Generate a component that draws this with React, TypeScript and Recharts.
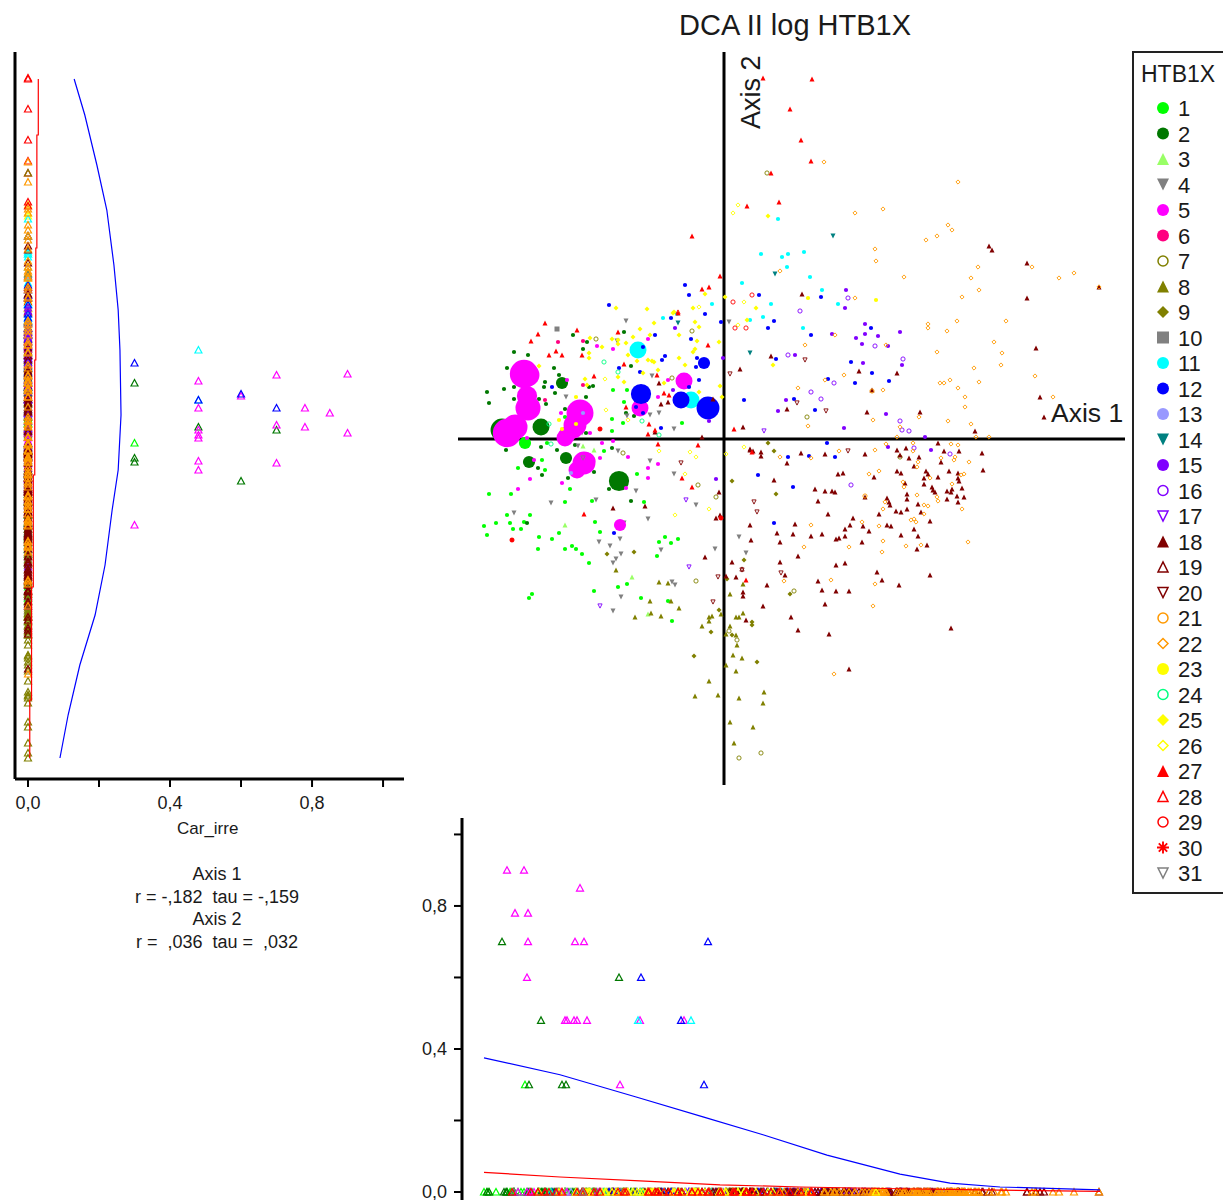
import React from 'react';
import { ScatterChart, Scatter, XAxis, YAxis, ReferenceLine } from 'recharts';

// each point: [axis 1 score, axis 2 score, Car_irre (omitted = 0)]
type Row = [number, number, number?];

const g1: Row[] = [[-199,-5,.3],[-111,48],[-100,36],[-97,48],[-112,19],[-101,15],[-42,15],[-112,7],[-159,21],[-177,-5],[-120,-13],[-206,-30],[-182,-22],[-179,-32],[-134,-18],[-87,-36],[-213,-56],[-235,-56],[-154,-51],[-159,-64],[-132,-63],[-80,-64],[-217,-77],[-194,-77],[-228,-85],[-214,-85],[-240,-88],[-211,-91],[-203,-91],[-200,-84],[-237,-97],[-185,-99],[-172,-101],[-165,-95],[-129,-84],[-124,-94],[-186,-111],[-159,-111],[-152,-108],[-148,-111],[-142,-116],[-135,-125],[-59,-99],[-65,-104],[-53,-105],[-46,-101],[-67,-118],[-130,-153],[-106,-149],[-97,-146],[-83,-160],[-56,-163],[-52,-183],[-192,-156],[-195,-160]];
const g2: Row[] = [[-222,8,.7],[-105,-43,.6],[-183,11,.48],[-162,55,.3],[-158,-20,.3],[-195,-24,.3],[-210,86],[-196,83],[-217,70],[-170,70],[-165,63],[-179,56],[-180,51],[-220,49],[-210,51],[-237,46],[-235,35],[-210,39],[-169,45],[-185,39],[-178,34],[-138,41],[-151,103],[-137,96],[-141,89],[-100,106],[-93,72],[-135,51],[-131,52],[-159,29],[-98,25],[-90,22],[-138,5],[-218,-12],[-183,-9],[-167,-12],[-149,-7],[-112,-10],[-186,-30],[-182,-37],[-130,-34],[-156,-40],[-115,-51],[-93,-63],[-197,-85]];
const g3: Row[] = [[-159,-87],[-130,-12],[-141,-8],[-92,-139],[-76,-176]];
const g4: Row[] = [[-98,117],[-107,97],[5,116],[-72,62],[-158,41],[-65,25],[-74,23],[-97,22],[-50,9],[-106,-13],[-74,-23],[-50,-36],[-88,-53],[-128,-62],[-173,-65],[-28,-67],[-76,-81],[-210,-75],[-100,-85],[-104,-101],[-125,-104],[-114,-108],[-63,-112],[-9,-111],[15,-99],[22,-115],[-103,-116],[-108,-121],[-111,-125],[-146,-8],[-142,5],[-146,-25],[-131,-24],[-103,-159],[-111,-173],[-52,-144],[-49,-147]];
const g5: Row[] = [[-200,64,.9],[-217,5,.9],[-144,25,.85],[-196,30,.78],[-209,11,.78],[-196,63,.7],[-149,13,.7],[-140,-25,.7],[-197,42,.6],[-157,3,.48],[-147,-32,.48],[-159,0,.48],[-150,8,.48],[-137,-23,.48],[-84,30,.48],[-40,57,.48],[-104,-87,.3],[-127,92],[-111,89],[-76,99],[-163,25],[-157,58],[-66,41],[-122,-5],[-111,-3],[-134,5],[-124,-20],[-96,-19],[-76,-30],[-66,-26],[-76,-40],[-194,-41],[-206,-51],[-162,-45],[-197,0],[-56,58],[-190,-22],[-98,-50]];
const g6: Row[] = [[-166,96],[-141,97],[-141,53],[-179,38]];
const g7: Row[] = [[-28,-143],[5,-193],[13,-202],[37,-315],[15,-320],[70,-153],[-128,99],[-32,107],[-52,60],[-101,-15],[-26,-47],[-8,-59],[43,265],[176,-19],[83,21]];
const g8: Row[] = [[-108,-132],[-65,-144],[-56,-145],[-74,-163],[-53,-163],[-73,-175],[-89,-179],[-63,-178],[-45,-170],[-22,-188],[-15,-179],[-12,-178],[-15,-183],[-3,-176],[6,-156],[19,-175],[12,-179],[15,-179],[6,-188],[2,-196],[12,-197],[13,-207],[9,-217],[18,-220],[2,-227],[12,-233],[-15,-243],[-29,-258],[-6,-257],[15,-260],[40,-254],[39,-265],[6,-284],[29,-289],[10,-305],[19,-146]];
const g9: Row[] = [[-30,-218],[-13,-194],[-5,-172],[28,-184],[28,-187],[33,-224],[8,-197],[3,-141],[44,-5],[50,-13],[8,-43],[52,-56],[66,-156],[-117,-116],[-90,-114],[20,-122]];
const g10: Row[] = [[-167,109]];
const g11: Row[] = [[-86,88,.48],[-33,38,.48],[18,155],[-12,134],[-61,120],[-47,124],[26,118],[54,219],[37,184],[58,181],[64,184],[80,186],[63,171],[86,161],[98,148],[47,134],[114,134],[39,121],[79,110]];
const g12: Row[] = [[-16,30,.7],[-83,44,.6],[-43,38,.48],[-20,75,.3],[-115,133],[-39,153],[-35,143],[-3,116],[-19,124],[-53,120],[-69,103],[-33,99],[-105,70],[-84,66],[-62,78],[-59,82],[-27,80],[-25,58],[-35,51],[-172,51],[20,38],[-81,91],[-63,10],[-110,-95],[34,-37],[-28,71],[-81,25],[-88,31],[35,143],[50,117],[44,110],[87,103],[97,141],[52,79],[127,76],[147,110],[148,65],[131,55],[165,57],[104,59],[70,39],[91,28],[103,-5],[64,-19],[85,-18],[111,-19],[69,-49],[50,-85]];
const g13: Row[] = [[-141,25],[-153,-35]];
const g14: Row[] = [[-46,115],[26,85],[109,202],[51,164]];
const g15: Row[] = [[-49,110],[-1,80],[-51,48],[-15,17],[-8,-41],[122,148],[121,130],[141,114],[141,104],[132,100],[154,102],[138,94],[176,106],[108,104],[164,92],[71,83],[139,75],[178,73],[54,27],[62,38],[162,24],[120,10],[201,1],[164,-9],[207,-12]];
const g16: Row[] = [[124,140],[76,127],[151,92],[64,83],[179,79],[87,46],[110,55],[97,39],[176,17],[178,8],[185,7],[190,-10],[226,-16],[127,-47]];
const g17: Row[] = [[-38,-62],[-35,-129],[40,7],[-124,-168]];
const g18: Row[] = [[265,192],[268,188],[303,175],[303,140],[375,151],[312,90],[316,41],[320,21],[78,144],[47,82],[16,69],[135,67],[173,65],[63,29],[143,26],[196,26],[19,11],[251,7],[148,48],[-65,55],[-63,34],[-56,36],[-11,39],[-111,-70],[-79,-68],[-69,6],[-5,-54],[-4,-77],[-8,-80],[27,-102],[-19,-119],[-22,1],[26,-11],[29,-13],[26,-12],[37,-14],[37,-18],[63,-25],[77,-15],[101,-16],[141,-16],[173,-12],[176,-17],[185,-20],[195,-19],[190,-28],[182,-10],[214,-5],[220,-13],[235,-13],[217,-24],[258,-15],[259,-32],[114,-36],[119,-35],[150,-39],[173,-33],[177,-35],[202,-33],[204,-36],[200,-40],[214,-39],[225,-33],[234,-35],[234,-40],[235,-43],[50,-42],[181,-45],[200,-46],[208,-49],[209,-52],[211,-54],[223,-53],[227,-54],[228,-51],[238,-50],[233,-58],[240,-59],[223,-61],[234,-64],[183,-56],[183,-61],[91,-51],[101,-53],[108,-53],[111,-54],[94,-63],[163,-60],[165,-64],[166,-67],[194,-66],[172,-73],[177,-74],[183,-71],[197,-74],[155,-76],[104,-76],[129,-80],[206,-83],[71,-86],[26,-87],[126,-87],[139,-88],[163,-87],[167,-88],[145,-93],[121,-91],[190,-91],[53,-95],[69,-96],[98,-96],[121,-98],[115,-100],[112,-101],[87,-98],[177,-97],[194,-98],[56,-104],[138,-104],[203,-107],[193,-111],[74,-118],[56,-124],[112,-127],[121,-125],[153,-134],[158,-142],[206,-137],[8,-124],[61,-137],[12,-139],[2,-138],[43,-147],[94,-143],[175,-147],[98,-152],[112,-153],[125,-153],[19,-154],[19,-158],[101,-166],[39,-168],[67,-179],[22,-182],[74,-192],[105,-196],[227,-190],[125,-231],[141,-59]];
const g19: Row[] = [[18,-131]];
const g20: Row[] = [[6,64],[-43,-25],[30,-64],[33,-74],[81,78],[73,35],[102,27],[57,-135],[18,-132],[124,-13],[-6,-139],[-11,-164]];
const g21: Row[] = [[141,-58],[148,47]];
const g22: Row[] = [[100,276],[234,256],[131,225],[159,229],[224,213],[228,208],[213,202],[202,198],[151,189],[152,177],[56,167],[308,171],[254,171],[247,160],[335,160],[350,165],[180,161],[255,148],[238,141],[131,140],[233,117],[282,117],[204,114],[204,110],[223,107],[111,103],[81,93],[162,93],[270,96],[213,86],[278,85],[277,73],[250,70],[120,63],[311,62],[101,58],[216,55],[220,55],[226,58],[255,56],[74,50],[234,50],[159,48],[241,41],[241,31],[329,41],[149,18],[195,21],[224,17],[247,14],[176,11],[84,12],[173,1],[252,1],[265,1],[375,151],[56,-19],[87,-20],[115,-13],[151,-12],[162,-6],[189,-5],[189,-13],[227,-6],[234,-7],[217,-20],[230,-22],[231,-19],[194,-24],[193,-29],[245,-24],[145,-36],[155,-33],[240,-36],[237,-37],[206,-40],[179,-44],[180,-49],[228,-46],[193,-57],[213,-59],[214,-63],[161,-64],[159,-71],[200,-67],[204,-68],[200,-76],[238,-71],[187,-82],[190,-81],[192,-84],[138,-84],[155,-88],[87,-87],[159,-103],[197,-107],[182,-108],[244,-104],[80,-109],[125,-109],[158,-114],[107,-142],[60,-143],[151,-146],[149,-168],[110,-236]];
const g23: Row[] = [[152,138],[84,140],[-148,14],[-165,18],[-162,9],[-148,41]];
const g24: Row[] = [[-120,76],[-106,66],[-175,14],[-173,-6],[-82,17],[-65,3]];
const g25: Row[] = [[-108,130],[-77,129],[-31,130],[-19,144],[-50,126],[-70,115],[-84,109],[-29,116],[-25,111],[-45,103],[-27,97],[-5,96],[-91,101],[-74,103],[-112,99],[-106,98],[-98,95],[-106,94],[-134,100],[-122,91],[-135,85],[-135,80],[-96,83],[-76,78],[-72,77],[-70,76],[-87,77],[-29,89],[-31,86],[-45,80],[-39,73],[-66,68],[-81,65],[-60,55],[-100,56],[-106,61],[-139,59],[-137,53],[-185,72],[-4,52],[-25,46],[-2,41],[44,222],[49,73],[32,130],[23,118],[1,141],[-51,125]];
const g26: Row[] = [[14,233],[9,225],[14,113],[-25,131],[-15,-71],[-49,-77],[20,-9],[-118,28],[-96,18],[-28,-19],[-34,-14],[-39,-36],[-65,-13],[-119,59],[20,136],[2,-16]];
const g27: Row[] = [[-179,115],[-147,108],[-186,104],[-193,97],[-168,87],[-175,83],[-162,83],[-142,83],[-130,62],[-106,106],[-100,74],[-22,149],[-15,151],[-4,162],[-16,93],[-98,31],[-75,14],[-76,4],[-66,-6],[-60,45],[-55,43],[-67,63],[-42,-40],[-32,-49],[-26,-7],[10,9],[-69,8],[-140,-76],[88,359],[39,360],[66,329],[77,298],[87,277],[47,265],[55,236],[23,232],[-32,202],[-46,125],[28,-14],[22,-142]];
const g28: Row[] = [[-46,126]];
const g29: Row[] = [[28,143],[9,136],[11,110],[22,110]];
const g30: Row[] = [[-212,-102],[-124,9],[-3,-80]];
const g31: Row[] = [[-141,-20]];

const groupRows: Row[][] = [g1,g2,g3,g4,g5,g6,g7,g8,g9,g10,g11,g12,g13,g14,g15,g16,g17,g18,g19,g20,g21,g22,g23,g24,g25,g26,g27,g28,g29,g30,g31];
const groupColors = ['#00ff00','#007800','#99ff66','#808080','#ff00ff','#ff0080','#808000','#808000','#808000','#808080','#00ffff','#0000ff','#9999ff','#008080','#8000ff','#8000ff','#8000ff','#800000','#800000','#800000','#ff9900','#ff9900','#ffff00','#00ff80','#ffff00','#ffff00','#ff0000','#ff0000','#ff0000','#ff0000','#808080'];
const groupMarkers = ['circle','circle','up','down','circle','circle','ocircle','up','diamond','square','circle','circle','circle','down','circle','ocircle','odown','up','oup','odown','ocircle','odiamond','circle','ocircle','diamond','odiamond','up','oup','ocircle','star','odown'];
// the left strip paints yellow and red first, orange ends up on top
const stripOrder = [22,23,24,25,26,27,28,29,30,0,1,2,3,4,5,6,7,8,9,10,11,12,13,14,15,16,17,18,19,20,21];

// loess curves on the side plots
const leftBlueCar = [.13,.16,.194,.222,.242,.254,.259,.262,.254,.237,.217,.189,.146,.113,.09];
const leftBlueAxis2 = [359,323,273,228,173,128,88,23,-32,-72,-127,-177,-227,-277,-320];
const leftRedCar = [.029,.029,.025,.025,.022,.022,.019,.019,.015,.015,.01,.01,.005,.005];
const leftRedAxis2 = [359,303,303,190,190,78,78,-37,-37,-149,-149,-262,-262,-320];
const bottomBlueAxis1 = [-240,-164,-87,-21,39,103,176,226,276,376];
const bottomBlueCar = [.375,.328,.265,.21,.16,.103,.05,.025,.014,.006];
const bottomRedAxis1 = [-240,-164,-84,-4,76,176,276,376];
const bottomRedCar = [.055,.042,.031,.02,.014,.009,.005,.002];

const carTicks = [0, .2, .4, .6, .8, 1];
const carLabels = [0, .4, .8];
const statLines = ['Axis 1', 'r = -,182  tau = -,159', 'Axis 2', 'r =  ,036  tau =  ,032'];

const FONT = '"Liberation Sans", Arial, sans-serif';
const TEXT = '#1a1a1a';

const rows = groupRows.map((list, i) =>
  list.map(r => ({ a1: r[0], a2: r[1], car: r[2] ?? 0, group: i }))
);
const stripRows = stripOrder.map(i => rows[i]);
const leftBlue = leftBlueCar.map((car, i) => ({ car, a2: leftBlueAxis2[i] }));
const leftRed = leftRedCar.map((car, i) => ({ car, a2: leftRedAxis2[i] }));
const bottomBlue = bottomBlueAxis1.map((a1, i) => ({ a1, car: bottomBlueCar[i] }));
const bottomRed = bottomRedAxis1.map((a1, i) => ({ a1, car: bottomRedCar[i] }));

const carTick = (v: number) =>
  carLabels.includes(v) ? v.toFixed(1).replace('.', ',') : '';

function marker(kind: string, color: string, x: number, y: number, s: number, sw = 1) {
  const hollow = kind[0] === 'o';
  const fill = hollow ? 'none' : color;
  const stroke = hollow ? color : 'none';
  const shape = hollow ? kind.slice(1) : kind;
  if (shape === 'circle') return <circle cx={x} cy={y} r={s} fill={fill} stroke={stroke} strokeWidth={sw} />;
  if (shape === 'square') return <rect x={x - s} y={y - s} width={s * 2} height={s * 2} fill={fill} />;
  if (shape === 'up') return <polygon points={`${x - s},${y + s} ${x + s},${y + s} ${x},${y - s}`} fill={fill} stroke={stroke} strokeWidth={sw} />;
  if (shape === 'down') return <polygon points={`${x - s},${y - s} ${x + s},${y - s} ${x},${y + s}`} fill={fill} stroke={stroke} strokeWidth={sw} />;
  if (shape === 'diamond') return <polygon points={`${x - s},${y} ${x},${y - s} ${x + s},${y} ${x},${y + s}`} fill={fill} stroke={stroke} strokeWidth={sw} />;
  return (
    <path
      d={`M${x - s},${y}H${x + s}M${x},${y - s}V${y + s}M${x - s * .7},${y - s * .7}L${x + s * .7},${y + s * .7}M${x - s * .7},${y + s * .7}L${x + s * .7},${y - s * .7}`}
      stroke={color}
      strokeWidth={sw + .4}
      fill="none"
    />
  );
}

// main plot: Car_irre decides the bubble size, absent species stay tiny
const OrdPoint = (props: any) => {
  const { cx, cy, payload } = props;
  const i = payload.group;
  const kind = groupMarkers[i];
  if (payload.car > 0) return <circle cx={cx} cy={cy} r={2 + 13.5 * payload.car} fill={groupColors[i]} />;
  if (kind === 'circle') return marker(kind, groupColors[i], cx, cy, 2.1);
  if (kind[0] === 'o') return marker(kind, groupColors[i], cx, cy, 2.1, .9);
  return marker(kind, groupColors[i], cx, cy, 2.5, 1);
};

// side plots: every species is a small open triangle
const SidePoint = (props: any) => {
  const { cx, cy, payload } = props;
  return (
    <polygon
      points={`${cx - 3.5},${cy + 3} ${cx + 3.5},${cy + 3} ${cx},${cy - 3.5}`}
      fill="none"
      stroke={groupColors[payload.group]}
      strokeWidth={1.2}
    />
  );
};

const NoPoint = () => <g />;

const Label = ({ x, y, size, children, style }: any) => (
  <div
    style={{
      position: 'absolute',
      left: x,
      top: y,
      fontSize: size,
      lineHeight: 1,
      color: TEXT,
      whiteSpace: 'pre',
      ...style,
    }}
  >
    {children}
  </div>
);

const HtbLegend = () => (
  <svg
    width={92}
    height={843}
    style={{ position: 'absolute', left: 1132, top: 51 }}
  >
    <rect x={1} y={1} width={120} height={841} fill="#fff" stroke="#222" strokeWidth={2} />
    <text x={9} y={31} fontSize={23} fill={TEXT} fontFamily={FONT}>HTB1X</text>
    {groupColors.map((c, i) => {
      const y = 57 + i * 25.5;
      return (
        <g key={i}>
          {marker(groupMarkers[i], c, 31, y, groupMarkers[i][0] === 'o' ? 5 : 6, 1.5)}
          <text x={46} y={y + 8} fontSize={22} fill={TEXT} fontFamily={FONT}>{i + 1}</text>
        </g>
      );
    })}
  </svg>
);

export default function App() {
  return (
    <div
      style={{
        position: 'absolute',
        left: 0,
        top: 0,
        width: 1223,
        height: 1200,
        overflow: 'hidden',
        background: '#fff',
        fontFamily: FONT,
      }}
    >
      <Label x={679} y={11} size={29}>DCA II log HTB1X</Label>

      {/* ordination */}
      <div style={{ position: 'absolute', left: 458, top: 52 }}>
        <ScatterChart width={667} height={733} margin={{ top: 0, right: 0, bottom: 0, left: 0 }}>
          <XAxis type="number" dataKey="a1" domain={[-266, 401]} hide />
          <YAxis type="number" dataKey="a2" domain={[-347, 386]} hide />
          {rows.map((data, i) => (
            <Scatter key={i} data={data} shape={OrdPoint} isAnimationActive={false} />
          ))}
          <ReferenceLine x={0} stroke="#000" strokeWidth={3} />
          <ReferenceLine y={-1} stroke="#000" strokeWidth={3} />
        </ScatterChart>
      </div>
      <Label x={1051} y={400} size={26.5}>Axis 1</Label>
      <Label
        x={738}
        y={129}
        size={27}
        style={{ transform: 'rotate(-90deg)', transformOrigin: '0 0' }}
      >
        Axis 2
      </Label>

      {/* Car_irre against axis 2 */}
      <div style={{ position: 'absolute', left: 0, top: 0 }}>
        <ScatterChart width={404} height={830} margin={{ top: 52, right: 0, bottom: 0, left: 14 }}>
          <XAxis
            type="number"
            dataKey="car"
            domain={[-.0366, 1.059]}
            ticks={carTicks}
            tickFormatter={carTick}
            interval={0}
            height={51}
            tickSize={8}
            tickMargin={9}
            tickLine={{ stroke: '#000', strokeWidth: 2 }}
            axisLine={{ stroke: '#000', strokeWidth: 3 }}
            tick={{ fontSize: 18, fill: TEXT }}
          />
          <YAxis
            type="number"
            dataKey="a2"
            domain={[-341, 386]}
            width={1}
            tick={false}
            tickLine={false}
            axisLine={{ stroke: '#000', strokeWidth: 3 }}
          />
          {stripRows.map((data, i) => (
            <Scatter key={i} data={data} shape={SidePoint} isAnimationActive={false} />
          ))}
          <Scatter data={leftBlue} line={{ stroke: '#0000ff', strokeWidth: 1.2 }} shape={NoPoint} isAnimationActive={false} />
          <Scatter data={leftRed} line={{ stroke: '#ff0000', strokeWidth: 1.2 }} shape={NoPoint} isAnimationActive={false} />
        </ScatterChart>
      </div>
      <Label x={177} y={820} size={17}>Car_irre</Label>
      <div
        style={{
          position: 'absolute',
          left: 117,
          top: 863,
          width: 200,
          textAlign: 'center',
          fontSize: 18,
          lineHeight: '22.7px',
          color: TEXT,
          whiteSpace: 'pre',
        }}
      >
        {statLines.map(s => <div key={s}>{s}</div>)}
      </div>

      {/* axis 1 against Car_irre */}
      <div style={{ position: 'absolute', left: 0, top: 0 }}>
        <ScatterChart width={1125} height={1200} margin={{ top: 818, right: 0, bottom: 0, left: 400 }}>
          <XAxis type="number" dataKey="a1" domain={[-262, 401]} hide />
          <YAxis
            type="number"
            dataKey="car"
            domain={[-.0224, 1.046]}
            ticks={carTicks}
            tickFormatter={carTick}
            interval={0}
            width={62}
            tickSize={8}
            tickMargin={7}
            tickLine={{ stroke: '#000', strokeWidth: 2 }}
            axisLine={{ stroke: '#000', strokeWidth: 3 }}
            tick={{ fontSize: 18, fill: TEXT }}
          />
          {rows.map((data, i) => (
            <Scatter key={i} data={data} shape={SidePoint} isAnimationActive={false} />
          ))}
          <Scatter data={bottomBlue} line={{ stroke: '#0000ff', strokeWidth: 1.2 }} shape={NoPoint} isAnimationActive={false} />
          <Scatter data={bottomRed} line={{ stroke: '#ff0000', strokeWidth: 1.2 }} shape={NoPoint} isAnimationActive={false} />
        </ScatterChart>
      </div>

      <HtbLegend />
    </div>
  );
}
